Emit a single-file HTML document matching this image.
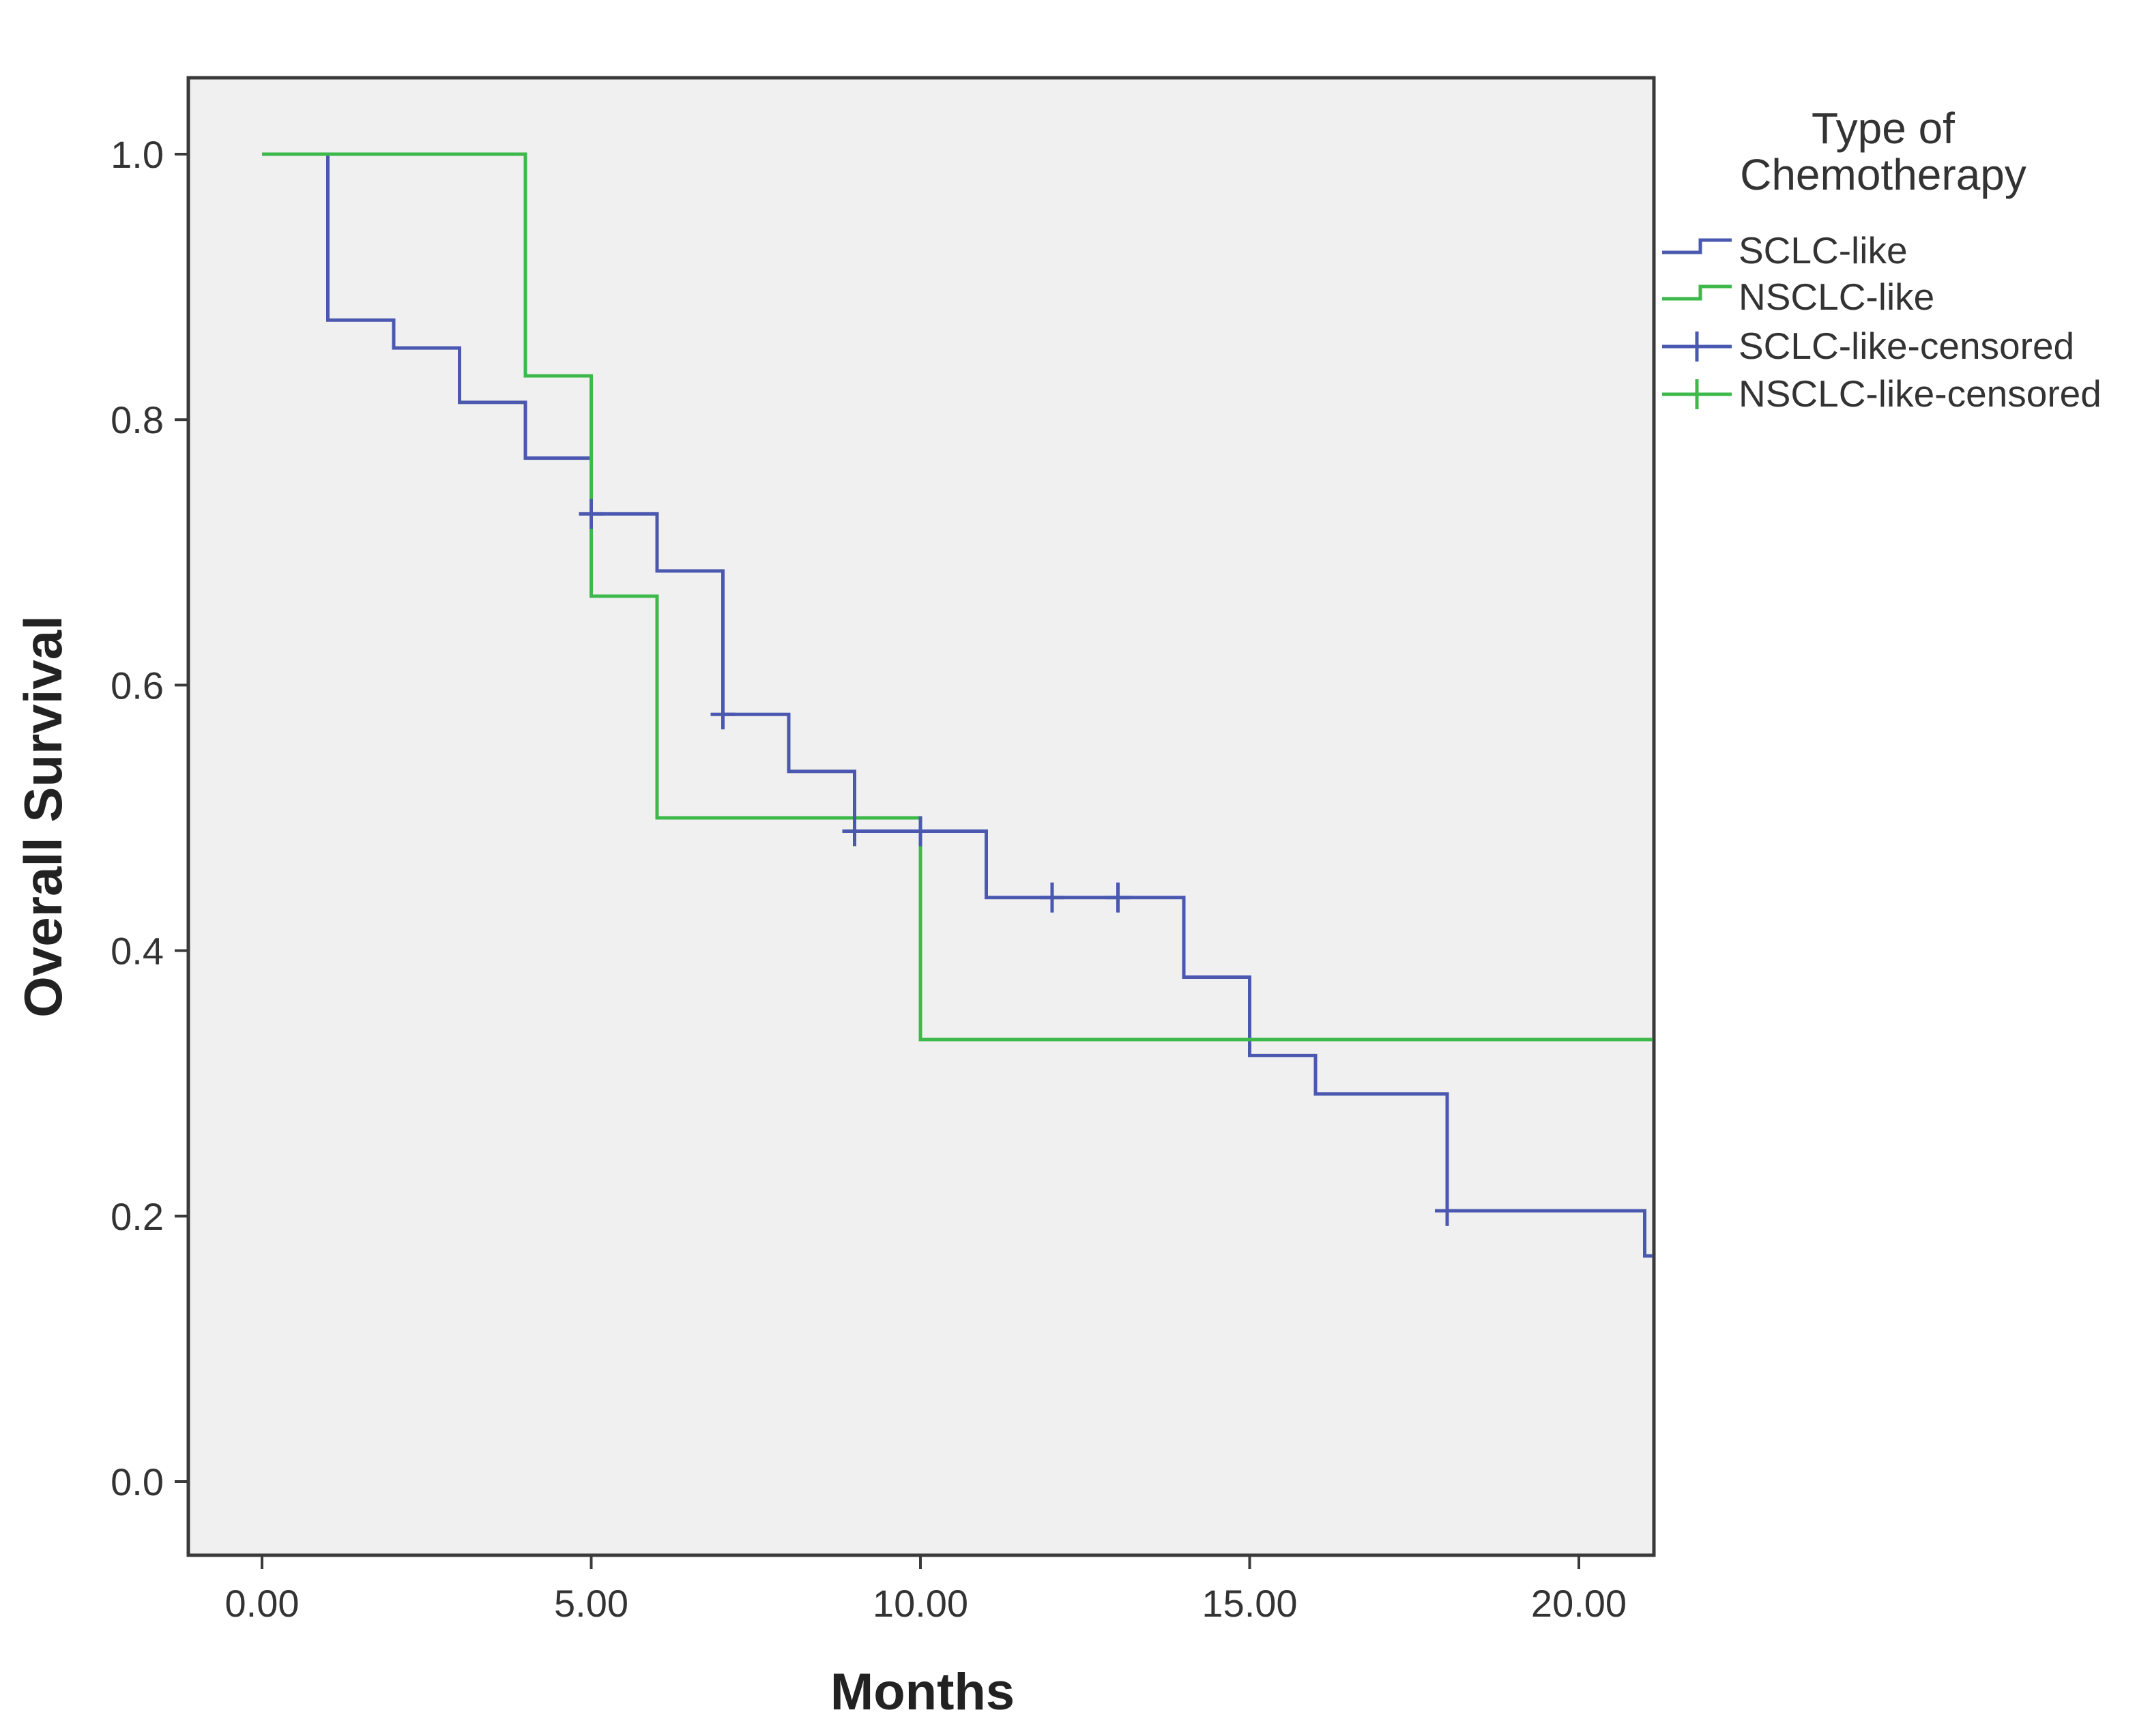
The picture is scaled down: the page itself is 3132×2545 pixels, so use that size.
<!DOCTYPE html>
<html><head><meta charset="utf-8">
<style>
html,body{margin:0;padding:0;background:#fff;}
svg{display:block;font-family:"Liberation Sans",sans-serif;}
</style></head>
<body>
<svg id="chart" width="3132" height="2545" viewBox="0 0 3132 2545" xmlns="http://www.w3.org/2000/svg">
<rect x="0" y="0" width="3132" height="2545" fill="#fff"/>
<rect x="276" y="114" width="2148" height="2166" fill="#f0f0f0" stroke="#3a3a3a" stroke-width="5"/>
<g id="axes"></g>
<g id="series"></g>
<text transform="translate(90,1197) rotate(-90)" text-anchor="middle" font-size="78" font-weight="bold" fill="#222">Overall Survival</text>
<text x="1352" y="2506" text-anchor="middle" font-size="76" font-weight="bold" fill="#222">Months</text>
<g>
<text x="2760" y="210" text-anchor="middle" font-size="64" fill="#333">Type of</text>
<text x="2760" y="278" text-anchor="middle" font-size="64" fill="#333">Chemotherapy</text>
<g>
<path d="M2436 370 H2492 V352 H2538" fill="none" stroke="#4a58b0" stroke-width="5"/>
<text x="2548" y="386" font-size="55" fill="#333">SCLC-like</text></g>
<g>
<path d="M2436 438 H2492 V420 H2538" fill="none" stroke="#3db84a" stroke-width="5"/>
<text x="2548" y="454" font-size="55" fill="#333">NSCLC-like</text></g>
<g>
<path d="M2436 508 H2538 M2487 486 V530" fill="none" stroke="#4a58b0" stroke-width="5"/>
<text x="2548" y="526" font-size="55" fill="#333">SCLC-like-censored</text></g>
<g>
<path d="M2436 578 H2538 M2487 556 V600" fill="none" stroke="#3db84a" stroke-width="5"/>
<text x="2548" y="596" font-size="55" fill="#333">NSCLC-like-censored</text></g>
</g>
</svg>
<script>
const xTicks = [0, 5, 10, 15, 20];
const xTickLabels = ["0.00", "5.00", "10.00", "15.00", "20.00"];
const yTicks = [0, 0.2, 0.4, 0.6, 0.8, 1.0];
const yTickLabels = ["0.0", "0.2", "0.4", "0.6", "0.8", "1.0"];
const sclcTimes = [0, 1, 2, 3, 4, 5, 6, 7, 8, 9, 11, 14, 15, 16, 18, 21];
const sclcSurv = [1.0, 0.875, 0.854, 0.813, 0.771, 0.729, 0.686, 0.578, 0.535, 0.49, 0.44, 0.38, 0.321, 0.292, 0.204, 0.17];
const sclcCensorTimes = [5, 7, 9, 10, 12, 13, 18];
const nsclcTimes = [0, 4, 5, 6, 10];
const nsclcSurv = [1.0, 0.833, 0.667, 0.5, 0.333];
const nsclcCensorTimes = [];
const xMax = 21.12;

const NS = "http://www.w3.org/2000/svg";
function xs(v){ return 384 + v * (2314 - 384) / 20; }
function ys(v){ return 2172 - v * (2172 - 226); }
const axes = document.getElementById('axes');
const series = document.getElementById('series');
function mk(tag, attrs, parent){ const e = document.createElementNS(NS, tag); for (const k in attrs) e.setAttribute(k, attrs[k]); parent.appendChild(e); return e; }

xTicks.forEach((t, i) => {
  const l = mk('line', {x1: xs(t), x2: xs(t), y1: 2280, y2: 2300, stroke: '#3a3a3a', 'stroke-width': 4}, axes);
  
  
  const tx = mk('text', {x: xs(t), y: 2370, 'text-anchor': 'middle', 'font-size': 56, fill: '#333'}, axes);
  tx.textContent = xTickLabels[i];
  
  
});
yTicks.forEach((t, i) => {
  const l = mk('line', {x1: 256, x2: 276, y1: ys(t), y2: ys(t), stroke: '#3a3a3a', 'stroke-width': 4}, axes);
  
  
  const tx = mk('text', {x: 240, y: ys(t) + 20, 'text-anchor': 'end', 'font-size': 56, fill: '#333'}, axes);
  tx.textContent = yTickLabels[i];
  
  
});

function stepPath(times, surv, endT){
  let d = 'M' + xs(times[0]) + ' ' + ys(surv[0]);
  for (let i = 1; i < times.length; i++){
    d += ' H' + xs(times[i]) + ' V' + ys(surv[i]);
  }
  d += ' H' + xs(endT);
  return d;
}
function survAt(times, surv, t){
  let s = surv[0];
  for (let i = 0; i < times.length; i++) if (times[i] <= t) s = surv[i];
  return s;
}
const p2 = mk('path', {d: stepPath(sclcTimes, sclcSurv, xMax), fill: 'none', stroke: '#4a58b0', 'stroke-width': 5}, series);


const p1 = mk('path', {d: stepPath(nsclcTimes, nsclcSurv, xMax), fill: 'none', stroke: '#3db84a', 'stroke-width': 5}, series);


sclcCensorTimes.forEach(t => {
  const y = ys(survAt(sclcTimes, sclcSurv, t));
  const c = mk('path', {d: 'M' + (xs(t) - 18) + ' ' + y + ' H' + (xs(t) + 18) + ' M' + xs(t) + ' ' + (y - 22) + ' V' + (y + 22), stroke: '#4a58b0', 'stroke-width': 5, fill: 'none'}, series);
  
  
});
nsclcCensorTimes.forEach(t => {
  const y = ys(survAt(nsclcTimes, nsclcSurv, t));
  const c = mk('path', {d: 'M' + (xs(t) - 18) + ' ' + y + ' H' + (xs(t) + 18) + ' M' + xs(t) + ' ' + (y - 22) + ' V' + (y + 22), stroke: '#3db84a', 'stroke-width': 5, fill: 'none'}, series);
  
  
});
</script>
</body></html>
